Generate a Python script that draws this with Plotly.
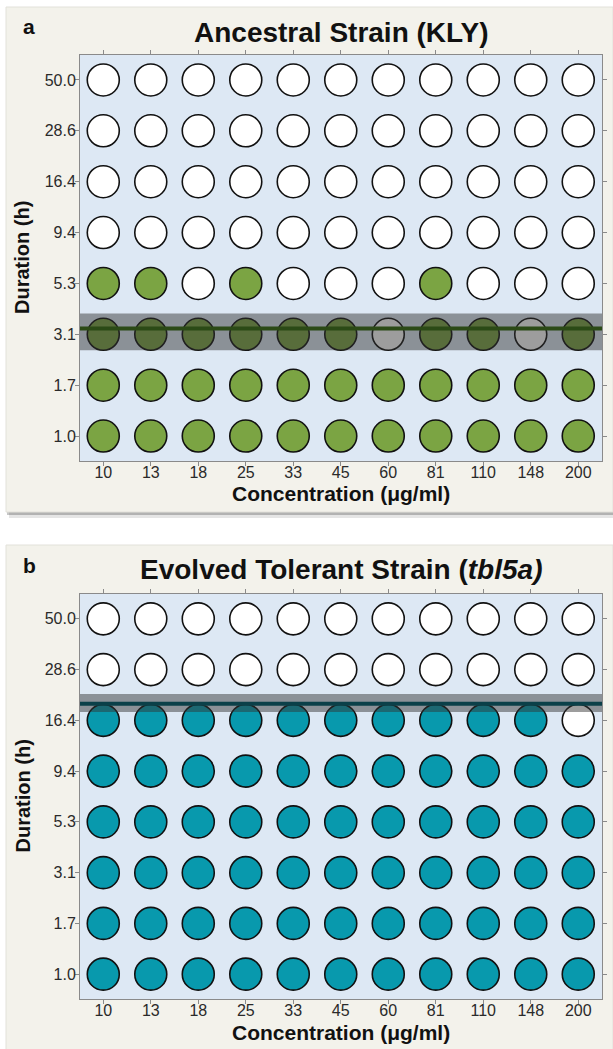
import numpy as np
import plotly.graph_objects as go

# ---------------- data ----------------
concentrations = ["10", "13", "18", "25", "33", "45", "60", "81", "110", "148", "200"]
duration_labels = ["1.0", "1.7", "3.1", "5.3", "9.4", "16.4", "28.6", "50.0"]
duration_values = [1.0, 1.7, 3.1, 5.3, 9.4, 16.4, 28.6, 50.0]

# 1 = growth, 0 = no growth; rows from 1.0 h (bottom) to 50.0 h (top)
growth_ancestral = [
    [1, 1, 1, 1, 1, 1, 1, 1, 1, 1, 1],
    [1, 1, 1, 1, 1, 1, 1, 1, 1, 1, 1],
    [1, 1, 1, 1, 1, 1, 0, 1, 1, 0, 1],
    [1, 1, 0, 1, 0, 0, 0, 1, 0, 0, 0],
    [0, 0, 0, 0, 0, 0, 0, 0, 0, 0, 0],
    [0, 0, 0, 0, 0, 0, 0, 0, 0, 0, 0],
    [0, 0, 0, 0, 0, 0, 0, 0, 0, 0, 0],
    [0, 0, 0, 0, 0, 0, 0, 0, 0, 0, 0],
]
growth_evolved = [
    [1, 1, 1, 1, 1, 1, 1, 1, 1, 1, 1],
    [1, 1, 1, 1, 1, 1, 1, 1, 1, 1, 1],
    [1, 1, 1, 1, 1, 1, 1, 1, 1, 1, 1],
    [1, 1, 1, 1, 1, 1, 1, 1, 1, 1, 1],
    [1, 1, 1, 1, 1, 1, 1, 1, 1, 1, 1],
    [1, 1, 1, 1, 1, 1, 1, 1, 1, 1, 0],
    [0, 0, 0, 0, 0, 0, 0, 0, 0, 0, 0],
    [0, 0, 0, 0, 0, 0, 0, 0, 0, 0, 0],
]

# estimated tolerance threshold (h) and its band (h)
threshold_ancestral = 3.3
band_ancestral = (2.57, 3.86)
threshold_evolved = 19.7
band_evolved = (18.0, 21.9)

# ---------------- layout helpers ----------------
W, H = 613, 1049
FONT = "Liberation Sans, Arial, sans-serif"


def fx(p):
    return p / W


def fy(p):
    return 1 - p / H


def dur_pos(v):
    return float(np.interp(np.log(v), np.log(duration_values), np.arange(len(duration_values))))


panels = [
    dict(sfx="", growth=growth_ancestral, color="#7ba443", line="#2b4a16",
         thr=threshold_ancestral, band=band_ancestral,
         top=55, bottom=461, box=(6, 7, 613, 512),
         letter="a", title="<b>Ancestral Strain (KLY)</b>", title_y=33, letter_y=27, xt_y=494),
    dict(sfx="2", growth=growth_evolved, color="#0899ad", line="#0b4049",
         thr=threshold_evolved, band=band_evolved,
         top=594, bottom=999, box=(6, 545, 613, 1060),
         letter="b", title="<b>Evolved Tolerant Strain (<i>tbl5a)</i></b>", title_y=569, letter_y=565,
         xt_y=1032),
]

fig = go.Figure()
shapes = []
annotations = []
layout_axes = {}

for p in panels:
    xa = "x" + p["sfx"]
    ya = "y" + p["sfx"]
    xs, ys, cols = [], [], []
    for r, row in enumerate(p["growth"]):
        for c, g in enumerate(row):
            xs.append(c)
            ys.append(r)
            cols.append(p["color"] if g else "#ffffff")
    fig.add_trace(go.Scatter(
        x=xs, y=ys, mode="markers", xaxis=xa, yaxis=ya, showlegend=False,
        marker=dict(size=32, color=cols, line=dict(color="#111111", width=1.6)),
        hoverinfo="skip"))

    x0, y0, x1, y1 = p["box"]
    # soft shadow + panel background
    shapes.append(dict(type="rect", xref="paper", yref="paper", layer="below",
                       x0=fx(x0 + 3), x1=fx(x1 + 2), y0=fy(y0 + 3), y1=fy(y1 + 6),
                       fillcolor="rgba(0,0,0,0.10)", line=dict(width=0)))
    shapes.append(dict(type="rect", xref="paper", yref="paper", layer="below",
                       x0=fx(x0 + 1), x1=fx(x1 + 1), y0=fy(y0 + 1), y1=fy(y1 + 3),
                       fillcolor="rgba(0,0,0,0.22)", line=dict(width=0)))
    shapes.append(dict(type="rect", xref="paper", yref="paper", layer="below",
                       x0=fx(x0), x1=fx(x1), y0=fy(y0), y1=fy(y1),
                       fillcolor="#f3f2eb", line=dict(color="#e2e1da", width=1)))
    # plot area background
    shapes.append(dict(type="rect", xref=xa + " domain", yref=ya + " domain", layer="below",
                       x0=0, x1=1, y0=0, y1=1, fillcolor="#dde8f4", line=dict(width=0)))
    # threshold band and line
    shapes.append(dict(type="rect", xref=xa + " domain", yref=ya, layer="above",
                       x0=0, x1=1, y0=dur_pos(p["band"][0]), y1=dur_pos(p["band"][1]),
                       fillcolor="rgba(50,50,50,0.48)", line=dict(width=0)))
    shapes.append(dict(type="line", xref=xa + " domain", yref=ya, layer="above",
                       x0=0, x1=1, y0=dur_pos(p["thr"]), y1=dur_pos(p["thr"]),
                       line=dict(color=p["line"], width=4)))

    axis_common = dict(showline=True, linecolor="#8a8a8a", linewidth=1, mirror="ticks",
                       ticks="outside", ticklen=4, tickcolor="#8a8a8a", tickwidth=1,
                       showgrid=False, zeroline=False, fixedrange=True,
                       tickfont=dict(family=FONT, size=16, color="#2a2a2a"))
    layout_axes["xaxis" + p["sfx"]] = dict(
        axis_common, domain=[fx(80), fx(602)], anchor=ya, range=[-0.49, 10.5],
        ticklabelstandoff=-7,
        tickmode="array", tickvals=list(range(len(concentrations))), ticktext=concentrations)
    layout_axes["yaxis" + p["sfx"]] = dict(
        axis_common, domain=[fy(p["bottom"]), fy(p["top"])], anchor=xa, range=[-0.49, 7.49],
        ticklabelstandoff=-4,
        tickmode="array", tickvals=list(range(len(duration_labels))), ticktext=duration_labels)

    mid_y = (p["top"] + p["bottom"]) / 2
    annotations += [
        dict(text="<b>%s</b>" % p["letter"], x=fx(21), y=fy(p["letter_y"]), xref="paper", yref="paper",
             xanchor="left", yanchor="middle", showarrow=False,
             font=dict(family=FONT, size=21, color="#111111")),
        dict(text=p["title"], x=fx(341), y=fy(p["title_y"]), xref="paper", yref="paper",
             xanchor="center", yanchor="middle", showarrow=False,
             font=dict(family=FONT, size=28, color="#111111")),
        dict(text="<b>Concentration (μg/ml)</b>", x=fx(341), y=fy(p["xt_y"]), xref="paper", yref="paper",
             xanchor="center", yanchor="middle", showarrow=False,
             font=dict(family=FONT, size=21, color="#111111")),
        dict(text="<b>Duration (h)</b>", x=fx(22), y=fy(mid_y), xref="paper", yref="paper",
             xanchor="center", yanchor="middle", showarrow=False, textangle=-90,
             font=dict(family=FONT, size=20, color="#111111")),
    ]

fig.update_layout(
    width=W, height=H, margin=dict(l=0, r=0, t=0, b=0),
    paper_bgcolor="#ffffff", plot_bgcolor="rgba(0,0,0,0)",
    shapes=shapes, annotations=annotations, showlegend=False,
    **layout_axes)

fig.write_html("out.html", config={"displayModeBar": False},
               post_script="document.body.style.margin='0px';")
